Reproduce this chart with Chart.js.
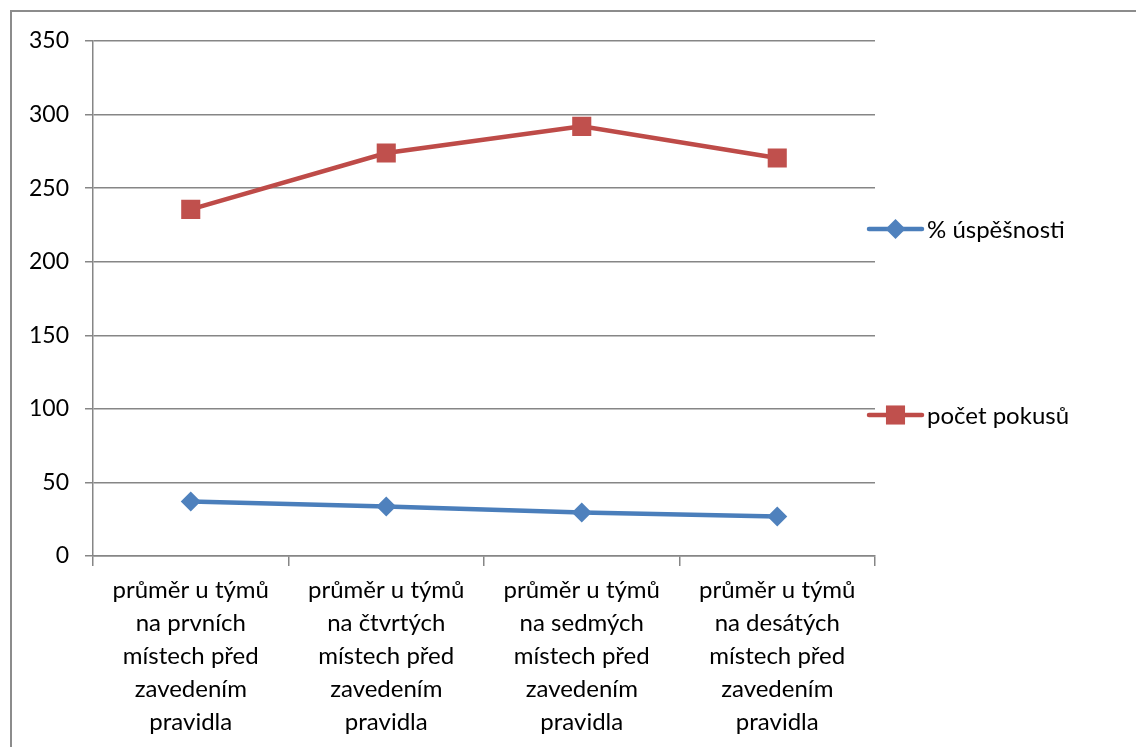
<!DOCTYPE html>
<html>
<head>
<meta charset="utf-8">
<script src="https://cdn.jsdelivr.net/npm/chart.js@4/dist/chart.umd.min.js"></script>
<style>
html,body{margin:0;padding:0;background:#fff;}
#wrap{position:relative;width:1136px;height:747px;}
</style>
</head>
<body>
<div id="wrap"><canvas id="c" width="1136" height="747"></canvas></div>
<script>
const categories = [
  ["průměr u týmů","na prvních","místech před","zavedením","pravidla"],
  ["průměr u týmů","na čtvrtých","místech před","zavedením","pravidla"],
  ["průměr u týmů","na sedmých","místech před","zavedením","pravidla"],
  ["průměr u týmů","na desátých","místech před","zavedením","pravidla"]
];
const seriesNames = ["% úspěšnosti", "počet pokusů"];
const uspesnost = [37.1, 33.7, 29.6, 26.8];
const pokusy = [235.6, 273.9, 292.0, 270.5];
const yTicks = [0, 50, 100, 150, 200, 250, 300, 350];

const FONT = "Lato, 'Open Sans', sans-serif";
const GRID = '#868686';

const borderPlugin = {
  id: 'outerBorder',
  beforeDraw(chart) {
    const ctx = chart.ctx;
    ctx.save();
    ctx.strokeStyle = '#8c8c8c';
    ctx.lineWidth = 2;
    ctx.strokeRect(11, 11, 1200, 800);
    ctx.restore();
  }
};

const legendPlugin = {
  id: 'customLegend',
  afterDraw(chart) {
    const ctx = chart.ctx;
    const items = [{y: 229, ds: 0}, {y: 415, ds: 1}];
    ctx.save();
    items.forEach(it => {
      const ds = chart.data.datasets[it.ds];
      ctx.strokeStyle = ds.borderColor;
      ctx.lineWidth = ds.borderWidth;
      ctx.lineCap = 'round';
      ctx.beginPath();
      ctx.moveTo(869, it.y);
      ctx.lineTo(922, it.y);
      ctx.stroke();
      ctx.fillStyle = ds.pointBackgroundColor;
      ctx.beginPath();
      if (ds.pointStyle === 'rect') {
        const s = ds.pointRadius * Math.SQRT1_2;
        ctx.rect(895.5 - s, it.y - s, 2 * s, 2 * s);
      } else {
        const r = ds.pointRadius;
        ctx.moveTo(895.5, it.y - r);
        ctx.lineTo(895.5 + r, it.y);
        ctx.lineTo(895.5, it.y + r);
        ctx.lineTo(895.5 - r, it.y);
        ctx.closePath();
      }
      ctx.fill();
      ctx.fillStyle = '#000';
      ctx.font = "24px " + FONT;
      ctx.textBaseline = 'middle';
      ctx.textAlign = 'left';
      ctx.fillText(ds.label, 927, it.y + 1);
    });
    ctx.restore();
  }
};

new Chart(document.getElementById('c'), {
  type: 'line',
  data: {
    labels: categories,
    datasets: [
      {
        label: seriesNames[0],
        data: uspesnost,
        borderColor: '#4A7EBB',
        backgroundColor: '#4F81BD',
        pointBackgroundColor: '#4F81BD',
        pointBorderColor: '#4F81BD',
        borderWidth: 4.5,
        pointStyle: 'rectRot',
        pointRadius: 10,
        pointBorderWidth: 0,
        tension: 0
      },
      {
        label: seriesNames[1],
        data: pokusy,
        borderColor: '#BE4B48',
        backgroundColor: '#C0504D',
        pointBackgroundColor: '#C0504D',
        pointBorderColor: '#C0504D',
        borderWidth: 4.5,
        pointStyle: 'rect',
        pointRadius: 13.5,
        pointBorderWidth: 0,
        tension: 0
      }
    ]
  },
  options: {
    responsive: false,
    animation: false,
    devicePixelRatio: 1,
    layout: { padding: { left: 0, right: 261, top: 41, bottom: 0 } },
    plugins: {
      legend: { display: false },
      tooltip: { enabled: false }
    },
    scales: {
      x: {
        offset: true,
        grid: {
          offset: true,
          drawOnChartArea: false,
          drawTicks: true,
          tickLength: 10,
          color: GRID,
          lineWidth: 1.5
        },
        border: { color: GRID, width: 1.5 },
        ticks: {
          color: '#000',
          font: { family: FONT, size: 24, lineHeight: 1.375 },
          padding: 8,
          maxRotation: 0,
          autoSkip: false
        },
        afterFit(scale) { scale.height = 191; }
      },
      y: {
        min: 0,
        max: 350,
        afterBuildTicks(scale) { scale.ticks = yTicks.map(v => ({ value: v })); },
        grid: {
          color: GRID,
          lineWidth: 1.5,
          tickLength: 8,
          drawTicks: true
        },
        border: { color: GRID, width: 1.5 },
        ticks: {
          color: '#000',
          font: { family: FONT, size: 23 },
          padding: 16
        },
        afterFit(scale) { scale.width = 93; }
      }
    }
  },
  plugins: [borderPlugin, legendPlugin]
});
</script>
</body>
</html>
